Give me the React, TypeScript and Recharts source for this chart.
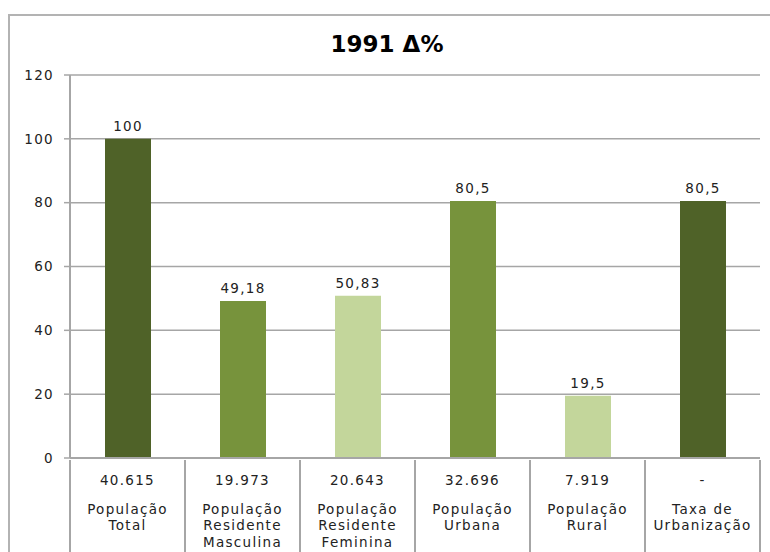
import { BarChart, Bar, XAxis, YAxis, CartesianGrid, Cell, LabelList } from 'recharts';

// Categories (label lines), population counts and percentage shares
const categories = [
    ['População', 'Total'],
    ['População', 'Residente', 'Masculina'],
    ['População', 'Residente', 'Feminina'],
    ['População', 'Urbana'],
    ['População', 'Rural'],
    ['Taxa de', 'Urbanização'],
];
const counts = ['40.615', '19.973', '20.643', '32.696', '7.919', '-'];
const shares = [100, 49.18, 50.83, 80.5, 19.5, 80.5];
const yTicks = [0, 20, 40, 60, 80, 100, 120];

const DARK = '#4F6228';
const MID = '#77933C';
const LIGHT = '#C3D69B';
const barColors = [DARK, MID, LIGHT, MID, LIGHT, DARK];

const FONT = '"DejaVu Sans", Verdana, sans-serif';
const GRID = '#a6a6a6';
const textStyle = { fontFamily: FONT, fontSize: 13.5, letterSpacing: 1.3, fill: '#222' };

const data = categories.map((lines, i) => ({
    key: String(i),
    lines,
    count: counts[i],
    value: shares[i],
}));

const formatPt = (v: any) => String(v).replace('.', ',');

// Two-row category label (count, then name) with separators between the columns
const CategoryTick = (props: any) => {
    const { x, y, payload } = props;
    const i = Number(payload.value);
    const row = data[i];
    const half = payload.offset ?? 57.5;
    return (
        <g>
            <line x1={x - half} y1={y} x2={x - half} y2={y + 92} stroke={GRID} strokeWidth={2} />
            {i === data.length - 1 && (
                <line x1={x + half} y1={y} x2={x + half} y2={y + 92} stroke={GRID} strokeWidth={2} />
            )}
            <text x={x} y={y + 25} textAnchor="middle" style={textStyle}>{row.count}</text>
            {row.lines.map((line, k) => (
                <text key={k} x={x} y={y + 53.5 + k * 16.5} textAnchor="middle" style={textStyle}>{line}</text>
            ))}
        </g>
    );
};

export default function App() {
    return (
        <div style={{ position: 'relative', width: 770, height: 552, overflow: 'hidden', background: '#fff' }}>
            <style>{`body { margin: 0; overflow: hidden; }`}</style>

            {/* frame around the chart area */}
            <div style={{
                position: 'absolute', left: 8, top: 14, width: 770, height: 560,
                borderTop: '2px solid #b3b3b3', borderLeft: '2px solid #b3b3b3',
            }} />

            <div style={{
                position: 'absolute', left: 2, top: 31, width: 770, textAlign: 'center',
                fontFamily: FONT, fontWeight: 'bold', fontSize: 23, lineHeight: '26px', color: '#000',
            }}>
                1991 Δ%
            </div>

            <div style={{ position: 'absolute', left: 0, top: 0 }}>
                <BarChart
                    width={770}
                    height={552}
                    data={data}
                    margin={{ top: 75, right: 10, left: 0, bottom: 0 }}
                >
                    <CartesianGrid vertical={false} stroke={GRID} strokeWidth={1.5} />
                    <XAxis
                        dataKey="key"
                        height={94}
                        tickSize={0}
                        tickLine={false}
                        axisLine={{ stroke: GRID, strokeWidth: 2 }}
                        tick={<CategoryTick />}
                        interval={0}
                    />
                    <YAxis
                        width={70}
                        domain={[0, 120]}
                        ticks={yTicks}
                        interval={0}
                        tickSize={6}
                        tickMargin={10}
                        axisLine={{ stroke: GRID, strokeWidth: 2 }}
                        tickLine={{ stroke: GRID, strokeWidth: 1.5 }}
                        tick={textStyle}
                    />
                    <Bar dataKey="value" barSize={46} isAnimationActive={false}>
                        {data.map((d, i) => (
                            <Cell key={d.key} fill={barColors[i]} />
                        ))}
                        <LabelList
                            dataKey="value"
                            position="top"
                            offset={8}
                            formatter={formatPt}
                            style={textStyle}
                        />
                    </Bar>
                </BarChart>
            </div>
        </div>
    );
}
